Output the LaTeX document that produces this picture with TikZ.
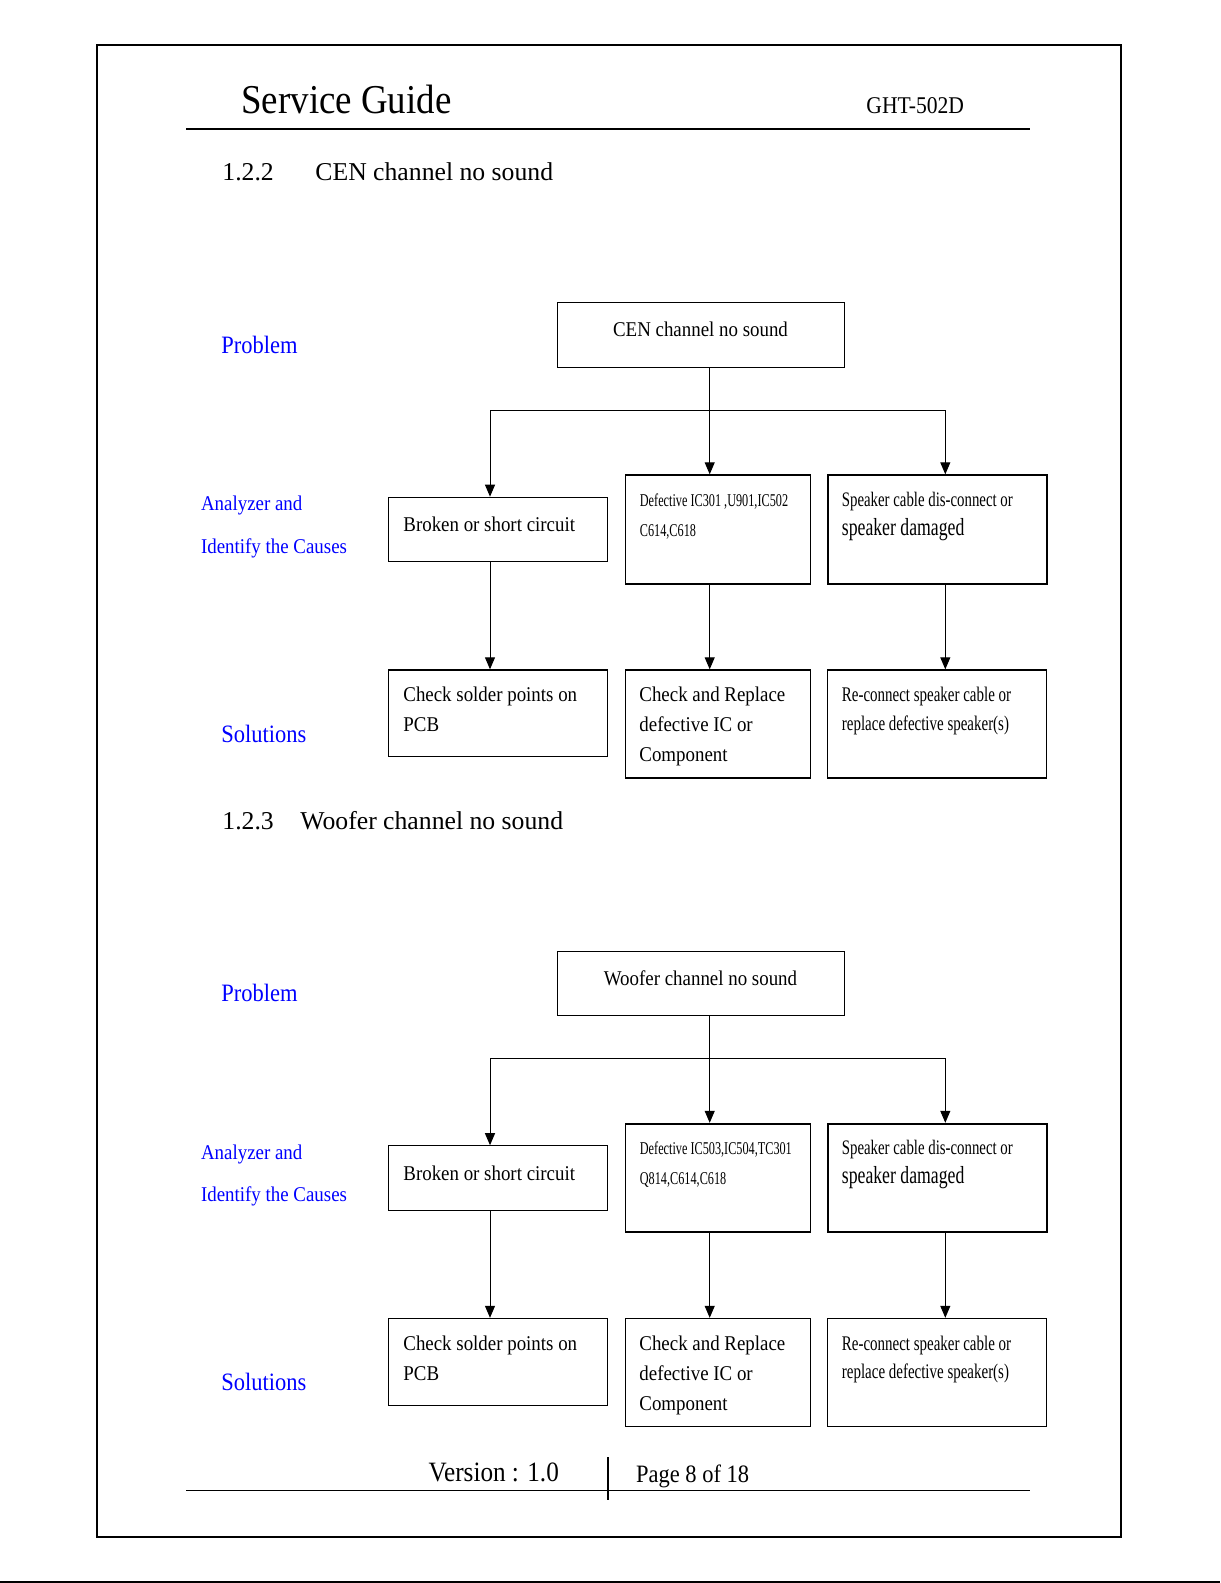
\documentclass[tikz,border=0pt]{standalone}
\usepackage{fontspec}
\setmainfont[FakeStretch=0.9]{Liberation Serif}
\newfontfamily\hdfont{Liberation Serif}
\newfontfamily\nrfont[FakeStretch=0.72]{Liberation Serif}
\newfontfamily\xnfont[FakeStretch=0.68]{Liberation Serif}
\usepackage{tikz}
\usetikzlibrary{arrows.meta}

\newcommand{\fsz}[1]{\fontsize{#1pt}{#1pt}\selectfont}

\tikzset{
  cbox/.style={draw, rectangle, line width=0.6pt, anchor=north west, inner sep=0pt},
  txt/.style={anchor=base west, inner sep=0pt},
  lbl/.style={anchor=base west, inner sep=0pt, text=blue, font=\fsz{12.5}},
  small/.style={anchor=base west, inner sep=0pt, text=blue, font=\fsz{10.5}},
  arr/.style={line width=0.5pt, -{Triangle[width=5pt,length=6pt]}},
}

\begin{document}
\begin{tikzpicture}[x=0.5pt, y=-0.5pt]
\useasboundingbox (0,0) rectangle (1220,1583);
% page frame
\draw[line width=0.6pt] (97,45) rectangle (1121,1537);
\draw[line width=0.8pt] (0,1582) -- (1220,1582);

% header
\node[txt, font=\fsz{20.5}] (title) at (241,114) {Service Guide};
\node[txt, font=\fsz{12}] (model) at (866,114) {GHT-502D};
\draw[line width=0.6pt] (186,129) -- (1030,129);

% columns of the arrows
\coordinate (colA) at (490,0);
\coordinate (colB) at (709.7,0);
\coordinate (colC) at (945.3,0);

% 1.2.2
\node[txt, font=\hdfont\fsz{12.85}] (secA) at (222,180.7) {1.2.2};
\node[txt, font=\hdfont\fsz{12.85}] (secAt) at (315,180.7) {CEN channel no sound};
\node[lbl] (probA) at (221,353) {Problem};
\node[small] (anaA) at (200.7,510.7) {Analyzer and};
\node[small] (idfA) at (200.7,553) {Identify the Causes};
\node[lbl] (soluA) at (221,742) {Solutions};

\node[cbox, minimum width=143.5pt, minimum height=32.2pt] (cenA) at (557,302.3) {};
\node[cbox, minimum width=109.5pt, minimum height=32.2pt] (brkA) at (388,496.7) {};
\node[cbox, line width=0.9pt, minimum width=92.5pt, minimum height=54.2pt] (defA) at (624.5,474.3) {};
\node[cbox, line width=0.9pt, minimum width=109.5pt, minimum height=54.2pt] (spkA) at (827,474.3) {};
\node[cbox, minimum width=109.5pt, minimum height=43.35pt] (solA) at (388,669.3) {};
\node[cbox, minimum width=92.5pt, minimum height=54pt] (repA) at (624.5,669.3) {};
\node[cbox, minimum width=109.5pt, minimum height=54pt] (fixA) at (827,669.3) {};

\node[txt, anchor=base, font=\fsz{10.5}] (cenAt) at (700.5,336.7) {CEN channel no sound};
\node[txt, font=\fsz{10.5}] (brkAt) at (403,531.7) {Broken or short circuit};
\node[txt, font=\xnfont\fsz{9}] (defAt1) at (639.5,506) {Defective IC301 ,U901,IC502};
\node[txt, font=\xnfont\fsz{9}] (defAt2) at (639.5,536) {C614,C618};
\node[txt, font=\nrfont\fsz{10.3}] (spkAt1) at (841.5,506) {Speaker cable dis-connect or};
\node[txt, font=\nrfont\fsz{12.3}] (spkAt2) at (841.5,535) {speaker damaged};
\node[txt, font=\fsz{10.5}] (solAt1) at (403,701.7) {Check solder points on};
\node[txt, font=\fsz{10.5}] (solAt2) at (403,731.7) {PCB};
\node[txt, font=\fsz{10.5}] (repAt1) at (639,701.7) {Check and Replace};
\node[txt, font=\fsz{10.5}] (repAt2) at (639,731.7) {defective IC or};
\node[txt, font=\fsz{10.5}] (repAt3) at (639,761.7) {Component};
\node[txt, font=\nrfont\fsz{10.4}] (fixAt1) at (841.5,701.7) {Re-connect speaker cable or};
\node[txt, font=\nrfont\fsz{10.4}] (fixAt2) at (841.5,730) {replace defective speaker(s)};

\coordinate (jA) at (0,410);
\draw[arr] (cenA.south -| colB) -- (defA.north -| colB);
\draw[arr] (jA -| colB) -| (brkA.north -| colA);
\draw[arr] (jA -| colB) -| (spkA.north -| colC);
\draw[arr] (brkA.south -| colA) -- (solA.north -| colA);
\draw[arr] (defA.south -| colB) -- (repA.north -| colB);
\draw[arr] (spkA.south -| colC) -- (fixA.north -| colC);

% 1.2.3
\begin{scope}[yshift=-324.25pt]
\node[txt, font=\hdfont\fsz{12.85}] (secB) at (222,180.7) {1.2.3};
\node[txt, font=\hdfont\fsz{12.85}] (secBt) at (300,180.7) {Woofer channel no sound};
\node[lbl] (probB) at (221,353) {Problem};
\node[small] (anaB) at (200.7,510.7) {Analyzer and};
\node[small] (idfB) at (200.7,553) {Identify the Causes};
\node[lbl] (soluB) at (221,742) {Solutions};

\node[cbox, minimum width=143.5pt, minimum height=32.2pt] (cenB) at (557,302.3) {};
\node[cbox, minimum width=109.5pt, minimum height=32.2pt] (brkB) at (388,496.7) {};
\node[cbox, line width=0.9pt, minimum width=92.5pt, minimum height=54.2pt] (defB) at (624.5,474.3) {};
\node[cbox, line width=0.9pt, minimum width=109.5pt, minimum height=54.2pt] (spkB) at (827,474.3) {};
\node[cbox, minimum width=109.5pt, minimum height=43.35pt] (solB) at (388,669.3) {};
\node[cbox, minimum width=92.5pt, minimum height=54pt] (repB) at (624.5,669.3) {};
\node[cbox, minimum width=109.5pt, minimum height=54pt] (fixB) at (827,669.3) {};

\node[txt, anchor=base, font=\fsz{10.5}] (cenBt) at (700.5,336.7) {Woofer channel no sound};
\node[txt, font=\fsz{10.5}] (brkBt) at (403,531.7) {Broken or short circuit};
\node[txt, font=\xnfont\fsz{9}] (defBt1) at (639.5,506) {Defective IC503,IC504,TC301};
\node[txt, font=\xnfont\fsz{9}] (defBt2) at (639.5,536) {Q814,C614,C618};
\node[txt, font=\nrfont\fsz{10.3}] (spkBt1) at (841.5,506) {Speaker cable dis-connect or};
\node[txt, font=\nrfont\fsz{12.3}] (spkBt2) at (841.5,535) {speaker damaged};
\node[txt, font=\fsz{10.5}] (solBt1) at (403,701.7) {Check solder points on};
\node[txt, font=\fsz{10.5}] (solBt2) at (403,731.7) {PCB};
\node[txt, font=\fsz{10.5}] (repBt1) at (639,701.7) {Check and Replace};
\node[txt, font=\fsz{10.5}] (repBt2) at (639,731.7) {defective IC or};
\node[txt, font=\fsz{10.5}] (repBt3) at (639,761.7) {Component};
\node[txt, font=\nrfont\fsz{10.4}] (fixBt1) at (841.5,701.7) {Re-connect speaker cable or};
\node[txt, font=\nrfont\fsz{10.4}] (fixBt2) at (841.5,730) {replace defective speaker(s)};

\coordinate (jB) at (0,410);
\draw[arr] (cenB.south -| colB) -- (defB.north -| colB);
\draw[arr] (jB -| colB) -| (brkB.north -| colA);
\draw[arr] (jB -| colB) -| (spkB.north -| colC);
\draw[arr] (brkB.south -| colA) -- (solB.north -| colA);
\draw[arr] (defB.south -| colB) -- (repB.north -| colB);
\draw[arr] (spkB.south -| colC) -- (fixB.north -| colC);
\end{scope}

% footer
\node[txt, font=\fsz{14}] (ver) at (428.3,1481.7) {Version : 1.0};
\node[txt, font=\fsz{12.5}] (pg) at (635.7,1482.3) {Page 8 of 18};
\draw[line width=0.6pt] (186,1490.7) -- (1030,1490.7);
\draw[line width=1pt] (608.3,1457.3) -- (608.3,1500);
\end{tikzpicture}
\end{document}
